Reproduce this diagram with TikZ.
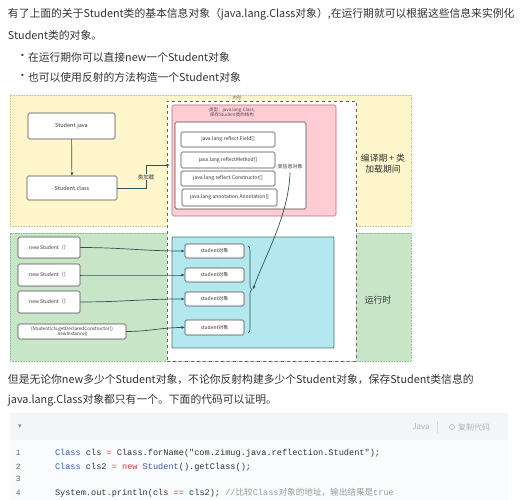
\documentclass[tikz,border=0pt]{standalone}
\usepackage{fontspec}
\setmainfont{Noto Sans CJK SC}
\newfontfamily\cjk{Noto Sans CJK SC}
\newfontfamily\sym{DejaVu Sans}
\setmonofont{Liberation Mono}
\usetikzlibrary{arrows.meta,decorations.pathreplacing,calc}
\definecolor{txt}{HTML}{333333}
\definecolor{yelf}{HTML}{FFF6CC}
\definecolor{yeld}{HTML}{CFC07A}
\definecolor{grnf}{HTML}{C9E5C8}
\definecolor{grnd}{HTML}{8FB98F}
\definecolor{pinkf}{HTML}{FFCCD4}
\definecolor{pinkd}{HTML}{B0707A}
\definecolor{cyanf}{HTML}{B3E8EE}
\definecolor{cyand}{HTML}{4F7580}
\definecolor{arrc}{HTML}{2F5358}
\definecolor{boxd}{HTML}{4A4A4A}
\definecolor{codehd}{HTML}{F4F5F6}
\definecolor{codebg}{HTML}{FAFBFC}
\definecolor{kwblue}{HTML}{3E5BA9}
\definecolor{kwred}{HTML}{D73A49}
\definecolor{cmt}{HTML}{9A9A9A}
\definecolor{lno}{HTML}{666666}
\begin{document}
\begin{tikzpicture}[x=1pt,y=-1pt,
  every node/.style={inner sep=0pt,outer sep=0pt,text=txt},
  para/.style={anchor=west,font=\fontsize{10.8}{12}\selectfont},
  zone/.style={draw,densely dotted,line width=0.6pt},
  box/.style={draw=boxd,fill=white,rounded corners=1.5pt,line width=0.6pt,align=center},
  tiny/.style={font=\fontsize{5}{6}\selectfont,align=center},
  arr/.style={draw=arrc,line width=0.7pt,-{Latex[length=3.5pt,width=3pt]}},
  codeln/.style={anchor=west,font=\fontsize{8.6}{10}\ttfamily},
  lnum/.style={anchor=west,font=\fontsize{8}{10}\ttfamily,text=lno}
]
\useasboundingbox (0,0) rectangle (523,500);
\fill[white] (0,0) rectangle (523,500);

% top text
\node[para] (t1) at (8,14) {有了上面的关于Student类的基本信息对象（java.lang.Class对象）,在运行期就可以根据这些信息来实例化};
\node[para] (t2) at (8,35) {Student类的对象。};
\node[para] (b1d) at (17,57) {•};
\node[para] (b1) at (28,57) {在运行期你可以直接new一个Student对象};
\node[para] (b2d) at (17,77) {•};
\node[para] (b2) at (28,77) {也可以使用反射的方法构造一个Student对象};

% zones
\node[zone,draw=yeld,fill=yelf,minimum width=401pt,minimum height=131pt] (yz) at (210.5,160.5) {};
\node[zone,draw=grnd,fill=grnf,minimum width=401pt,minimum height=128pt] (gz) at (210.5,297) {};
\node[draw=boxd!85,dashed,line width=0.8pt,fill=white,minimum width=189pt,minimum height=260pt] (mem) at (261.5,231) {};
\node[font=\fontsize{4.5}{5}\selectfont,text=black!60] (meml) at (237,97.5) {内存};

\node[font=\fontsize{8.8}{11}\selectfont,align=center] (lz1) at (383,164) {编译期 + 类\\加载期间};
\node[font=\fontsize{8.8}{11}\selectfont] (lz2) at (378,300) {运行时};

% pink class box
\node[draw=pinkd,fill=pinkf,rounded corners=1.5pt,line width=0.7pt,minimum width=164pt,minimum height=111pt] (pink) at (254,160.5) {};
\node[font=\fontsize{4.5}{5.5}\selectfont,align=center,text=black!70] (pinkl) at (232,112.5) {类型：java.lang.Class,\\保存Student类的结构};
\node[draw=boxd,fill=white,rounded corners=1.5pt,line width=0.6pt,minimum width=131pt,minimum height=87pt] (inner) at (240.5,165.5) {};
\node[box,tiny,minimum width=94pt,minimum height=15pt] (f1) at (228,139.5) {java.lang.reflect.Field[]};
\node[box,tiny,minimum width=94pt,minimum height=16pt] (f2) at (228,160) {java.lang.reflectMethod[]};
\node[box,tiny,minimum width=94pt,minimum height=15pt] (f3) at (228,178.5) {java.lang.reflect.Constructor[]};
\node[box,tiny,minimum width=95pt,minimum height=17pt] (f4) at (229.5,197.5) {java.lang.annotation.Annotation[]};
\node[tiny] (lbl) at (290,167) {类信息对象};

% left top boxes
\node[box,font=\fontsize{5.5}{6.5}\selectfont,minimum width=87pt,minimum height=26pt] (sj) at (71.5,126) {Student.java};
\node[box,font=\fontsize{5.5}{6.5}\selectfont,minimum width=90pt,minimum height=24pt] (sc) at (72,188) {Student.class};
\draw[arr] (sj) -- (sc);
\coordinate (ein) at (170,165);
\draw[arr] (sc.east) -- (146,188) |- (ein);
\node[font=\fontsize{5.5}{6}\selectfont,fill=yelf,inner sep=0.8pt] (ll) at (146,177) {类加载};

% runtime
\node[box,tiny,minimum width=62pt,minimum height=21pt] (n1) at (49,247.5) {new Student（）};
\node[box,tiny,minimum width=62pt,minimum height=22pt] (n2) at (49,275) {new Student（）};
\node[box,tiny,minimum width=62pt,minimum height=22pt] (n3) at (49,302) {new Student（）};
\node[box,font=\fontsize{4.6}{5.2}\selectfont,minimum width=108pt,minimum height=15pt] (n4) at (72,331.5) {(Student)cls.getDeclaredConstructor()\\.newInstance()};

\node[draw=cyand,fill=cyanf,rounded corners=1pt,line width=0.8pt,minimum width=162pt,minimum height=111pt] (cy) at (253,292.5) {};
\node[box,tiny,minimum width=59pt,minimum height=14pt] (s1) at (214.5,251) {student对象};
\node[box,tiny,minimum width=59pt,minimum height=14pt] (s2) at (214.5,275) {student对象};
\node[box,tiny,minimum width=59pt,minimum height=14pt] (s3) at (214.5,299) {student对象};
\node[box,tiny,minimum width=59pt,minimum height=15pt] (s4) at (214.5,327.5) {student对象};

\draw[arr] (n1.east) to[out=0,in=180] (s1.west);
\draw[arr] (n2.east) to[out=0,in=180] (s2.west);
\draw[arr] (n3.east) to[out=0,in=180] (s3.west);
\draw[arr] (n4.east) to[out=0,in=180] (s4.west);

\coordinate (bt0) at (248,246);
\coordinate (bt1) at (248,333);
\coordinate (bt) at (253,289.5);
\draw[arrc,line width=0.6pt,decorate,decoration={brace,amplitude=4pt}] (bt0) -- (bt1);
\draw[arr] (lbl.south) ++(0,3) .. controls (289,215) and (264,258) .. (bt);

% bottom text
\node[para] (t3) at (8,379) {但是无论你new多少个Student对象，不论你反射构建多少个Student对象，保存Student类信息的};
\node[para] (t4) at (8,400) {java.lang.Class对象都只有一个。下面的代码可以证明。};

% code block
\fill[codehd] (10,413) rectangle (508,440);
\fill[codebg] (10,440) rectangle (508,500);
\node[font=\sym\fontsize{7}{8}\selectfont,text=black!45] (tri) at (20,426.5) {▾};
\node[font=\fontsize{8}{9}\selectfont,text=black!30] (jv) at (421,427) {Java};
\draw[black!15,line width=0.5pt] (437,421) -- (437,433);
\node[draw=black!30,line width=0.6pt,circle,minimum size=5pt] (ic) at (452,427) {};
\node[anchor=west,font=\fontsize{8}{9}\selectfont,text=black!30] (cp) at (458,427) {复制代码};

\node[lnum] (l1) at (16,453) {1};
\node[lnum] (l2) at (16,467) {2};
\node[lnum] (l3) at (16,479) {3};
\node[lnum] (l4) at (16,493) {4};
\node[codeln] (c1) at (55,453) {\textcolor{kwblue}{Class} cls \textcolor{kwred}{=} Class.forName("com.zimug.java.reflection.Student");};
\node[codeln] (c2) at (55,467) {\textcolor{kwblue}{Class} cls2 \textcolor{kwred}{=} \textcolor{kwred}{new} \textcolor{kwblue}{Student}().getClass();};
\node[codeln] (c4) at (55,493) {System.out.println(cls \textcolor{kwred}{==} cls2); \textcolor{cmt}{//{\cjk 比较}Class{\cjk 对象的地址，输出结果是}true}};
\end{tikzpicture}
\end{document}
